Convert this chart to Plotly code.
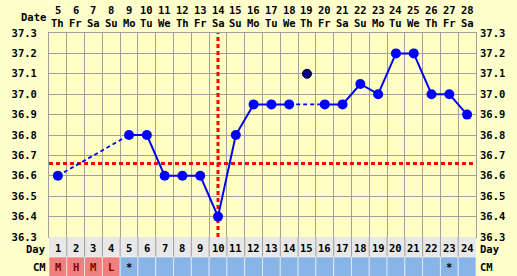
import plotly.graph_objects as go

# ---------------- data ----------------
days = list(range(1, 25))
dates = list(range(5, 29))
weekdays = ["Th", "Fr", "Sa", "Su", "Mo", "Tu", "We", "Th", "Fr", "Sa", "Su", "Mo",
            "Tu", "We", "Th", "Fr", "Sa", "Su", "Mo", "Tu", "We", "Th", "Fr", "Sa"]
temps = [36.6, None, None, None, 36.8, 36.8, 36.6, 36.6, 36.6, 36.4, 36.8, 36.95,
         36.95, 36.95, None, 36.95, 36.95, 37.05, 37.0, 37.2, 37.2, 37.0, 37.0, 36.9]
discarded_days = [15]
discarded_temps = [37.1]
cm_codes = ["M", "H", "M", "L", "*", "", "", "", "", "", "", "",
            "", "", "", "", "", "", "", "", "", "", "*", ""]
menses_days = [1, 2, 3, 4]
coverline = 36.66
ovulation_day = 10
y_ticks = [36.3, 36.4, 36.5, 36.6, 36.7, 36.8, 36.9, 37.0, 37.1, 37.2, 37.3]

# ---------------- style ----------------
W, H = 517, 276
L, R, T, B = 45, 40, 33, 39
PH = H - T - B
FONT = "DejaVu Sans Mono"
FS = 10.5
GRID = "#A0A0A0"
BLUE = "#0000F0"
PAPER = "#FFFFCC"
PLOT = "#FFFFC4"


def py(Y):
    return (H - B - Y) / PH


def px(X):
    return (X - L) / (W - L - R)


fig = go.Figure()

# dashed connectors across gaps
valid = [(d, t) for d, t in zip(days, temps) if t is not None]
for (d0, t0), (d1, t1) in zip(valid[:-1], valid[1:]):
    if d1 - d0 > 1:
        fig.add_trace(go.Scatter(x=[d0, d1], y=[t0, t1], mode="lines",
                                 line=dict(color=BLUE, width=1.8, dash="4px,3px"),
                                 hoverinfo="skip", showlegend=False))

# solid segments + points
fig.add_trace(go.Scatter(x=days, y=temps, mode="lines+markers", connectgaps=False,
                         line=dict(color=BLUE, width=2),
                         marker=dict(color="#0000FF", size=10, line=dict(width=0)),
                         hoverinfo="skip", showlegend=False))

# discarded temperatures
fig.add_trace(go.Scatter(x=discarded_days, y=discarded_temps, mode="markers",
                         marker=dict(color="#000080", size=9, line=dict(color="#000033", width=1)),
                         hoverinfo="skip", showlegend=False))

# trace to activate right axis
fig.add_trace(go.Scatter(x=[days[0]], y=[y_ticks[0]], yaxis="y2", mode="markers",
                         marker=dict(opacity=0), hoverinfo="skip", showlegend=False))

shapes = []
# coverline & ovulation line
shapes.append(dict(type="line", xref="x", yref="y", x0=days[0] - 0.5, x1=days[-1] + 0.5,
                   y0=coverline, y1=coverline, layer="between",
                   line=dict(color="#FF0000", width=3, dash="4px,3px")))
shapes.append(dict(type="line", xref="x", yref="y", x0=ovulation_day, x1=ovulation_day,
                   y0=y_ticks[0], y1=y_ticks[-1], layer="between",
                   line=dict(color="#FF0000", width=3, dash="4px,3px")))

# Day row
shapes.append(dict(type="rect", xref="x", yref="paper", x0=days[0] - 0.5, x1=days[-1] + 0.5,
                   y0=py(257), y1=py(237), fillcolor="#E8E8E8", line=dict(width=0), layer="above"))
for d in days[:-1]:
    shapes.append(dict(type="line", xref="x", yref="paper", x0=d + 0.5, x1=d + 0.5,
                       y0=py(257), y1=py(237), line=dict(color=GRID, width=1), layer="above"))
# CM row
for d, c in zip(days, cm_codes):
    col = "#F08080" if d in menses_days else "#88B4E8"
    shapes.append(dict(type="rect", xref="x", yref="paper", x0=d - 0.5, x1=d + 0.5,
                       y0=py(277), y1=py(257), fillcolor=col,
                       line=dict(color="rgba(255,255,255,0.55)", width=1), layer="above"))

annotations = []
bold = dict(family=FONT, size=FS, color="#000000", weight="bold")
for d, dt, wd in zip(days, dates, weekdays):
    annotations.append(dict(x=d, y=py(10.5), xref="x", yref="paper", text=str(dt),
                            showarrow=False, font=bold, yanchor="middle", borderpad=0))
    annotations.append(dict(x=d, y=py(23), xref="x", yref="paper", text=wd,
                            showarrow=False, font=bold, yanchor="middle", borderpad=0))
    annotations.append(dict(x=d, y=py(248), xref="x", yref="paper", text=str(d),
                            showarrow=False, font=bold, yanchor="middle", borderpad=0))
    if cm_codes[d - 1]:
        ccol = "#800000" if d in menses_days else "#000000"
        annotations.append(dict(x=d, y=py(267), xref="x", yref="paper", text=cm_codes[d - 1],
                                showarrow=False, font=dict(family=FONT, size=FS, color=ccol, weight="bold"),
                                yanchor="middle", borderpad=0))
annotations.append(dict(x=px(43), y=py(16.5), xref="paper", yref="paper", text="Date",
                        showarrow=False, font=bold, xanchor="right", yanchor="middle", borderpad=0))
for txt, Y in (("Day", 248.5), ("CM", 267)):
    annotations.append(dict(x=px(43), y=py(Y), xref="paper", yref="paper", text=txt,
                            showarrow=False, font=bold, xanchor="right", yanchor="middle", borderpad=0))
    annotations.append(dict(x=px(480), y=py(Y), xref="paper", yref="paper", text=txt,
                            showarrow=False, font=bold, xanchor="left", yanchor="middle", borderpad=0))

tick_text = [f"{v:.1f}" for v in y_ticks]
fig.update_layout(
    width=W, height=H, margin=dict(l=L, r=R, t=T, b=B, pad=0),
    paper_bgcolor=PAPER, plot_bgcolor=PLOT,
    showlegend=False, shapes=shapes, annotations=annotations,
    xaxis=dict(range=[days[0] - 0.5, days[-1] + 0.5], tickvals=[d + 0.5 for d in days[:-1]],
               showticklabels=False, ticks="", showgrid=True, gridcolor=GRID, gridwidth=1,
               showline=True, linecolor=GRID, linewidth=1, mirror=True, zeroline=False,
               fixedrange=True),
    yaxis=dict(range=[y_ticks[0], y_ticks[-1]], tickvals=y_ticks, ticktext=tick_text,
               tickfont=bold, ticks="", ticklabelstandoff=9, showgrid=True, gridcolor=GRID,
               gridwidth=1, showline=True, linecolor=GRID, linewidth=1, mirror=True,
               zeroline=False, fixedrange=True),
    yaxis2=dict(range=[y_ticks[0], y_ticks[-1]], tickvals=y_ticks, ticktext=tick_text,
                tickfont=bold, ticks="", ticklabelstandoff=3, overlaying="y", side="right",
                showgrid=False, showline=False, zeroline=False, fixedrange=True),
)

fig.write_html("out.html")
